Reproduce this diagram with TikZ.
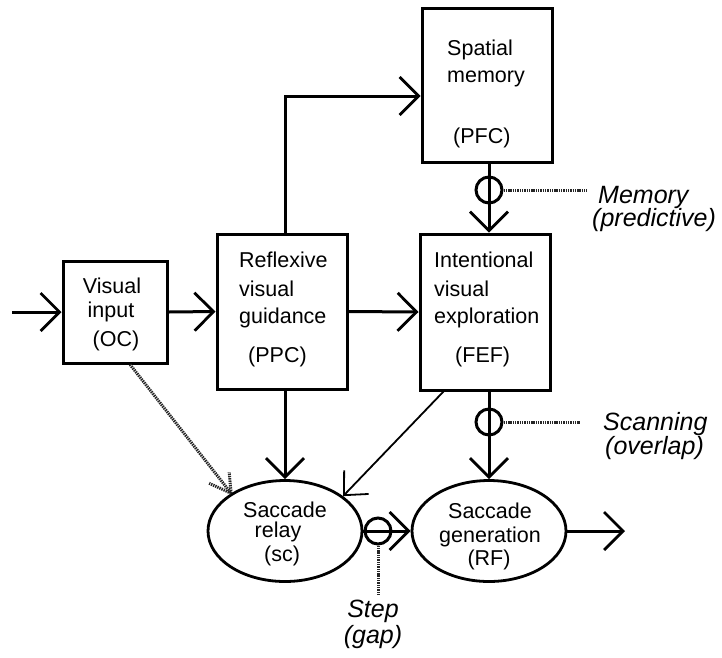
\documentclass[tikz,border=0pt]{standalone}
\usepackage{fontspec}
\setmainfont{Liberation Sans}
\usetikzlibrary{arrows.meta,shapes.geometric}
\begin{document}
\begin{tikzpicture}[x=1pt,y=-1pt,
  box/.style={draw,line width=3pt,inner sep=0pt},
  ell/.style={draw,ellipse,line width=2.8pt,minimum width=154pt,minimum height=101pt,inner sep=0pt},
  ring/.style={draw,circle,line width=3pt,minimum size=26pt,inner sep=0pt},
  conn/.style={line width=3pt,-{Straight Barb[length=19pt,width=38pt,line width=2.8pt]}},
  thinconn/.style={line width=1.8pt,-{Straight Barb[length=18pt,width=34pt,line width=1.8pt]}},
  txt/.style={inner sep=0pt,font=\fontsize{21.5}{26}\selectfont},
  lab/.style={inner sep=0pt,font=\fontsize{25}{28}\selectfont\itshape},
  dots/.style={line width=3pt,black!85,dash pattern=on 1.4pt off 0.9pt},
]
\useasboundingbox (0,0) rectangle (722,657);

% boxes
\node[box,minimum width=104pt,minimum height=102pt] (vis) at (115,312) {};
\node[box,minimum width=130pt,minimum height=155pt] (refl) at (282,311.5) {};
\node[box,minimum width=130pt,minimum height=154pt] (spat) at (487,85) {};
\node[box,minimum width=130pt,minimum height=156pt] (intent) at (485,312) {};
\node[ell] (relay) at (285,531) {};
\node[ell] (gen) at (489,531) {};

% texts
\node[txt,anchor=base] (t1) at (112,293) {Visual};
\node[txt,anchor=base] (t2) at (111,317) {input};
\node[txt,anchor=base] (t3) at (116,346) {(OC)};

\node[txt,anchor=base west] (t4) at (239,267) {Reflexive};
\node[txt,anchor=base west] (t5) at (239,296) {visual};
\node[txt,anchor=base west] (t6) at (239,323) {guidance};
\node[txt,anchor=base west] (t7) at (248,362) {(PPC)};

\node[txt,anchor=base west] (t8) at (434,267) {Intentional};
\node[txt,anchor=base west] (t9) at (434,296) {visual};
\node[txt,anchor=base west] (t10) at (434,323) {exploration};
\node[txt,anchor=base west] (t11) at (455,362) {(FEF)};

\node[txt,anchor=base west] (t12) at (447,55) {Spatial};
\node[txt,anchor=base west] (t13) at (447,82) {memory};
\node[txt,anchor=base west] (t14) at (453,143) {(PFC)};

\node[txt,anchor=base] (t15) at (285,517) {Saccade};
\node[txt,anchor=base] (t16) at (278,537) {relay};
\node[txt,anchor=base] (t17) at (282,561) {(sc)};

\node[txt,anchor=base] (t18) at (490,518) {Saccade};
\node[txt,anchor=base] (t19) at (490,542) {generation};
\node[txt,anchor=base] (t20) at (489,565) {(RF)};

% labels
\node[lab,anchor=base west] (l1) at (598,203) {Memory};
\node[lab,anchor=base west] (l2) at (592,226) {(predictive)};
\node[lab,anchor=base west] (l3) at (603,430) {Scanning};
\node[lab,anchor=base west] (l4) at (605,454) {(overlap)};
\node[lab,anchor=base] (l5) at (373,617) {Step};
\node[lab,anchor=base] (l6) at (373,643) {(gap)};

% connectors
\coordinate (inp) at (12,312);
\coordinate (out) at (625,531);
\draw[conn] (inp) -- (vis.west);
\draw[conn] (vis.east) -- (refl.west);
\draw[conn] ([xshift=3pt]refl.north) |- ([yshift=-11pt]spat.west);
\draw[conn] (refl.east) -- (intent.west);
\draw[conn] (spat.south -| gen.north) -- (intent.north -| gen.north);
\draw[conn] (intent.south -| gen.north) -- (gen.north);
\draw[conn] (refl.south -| relay.north) -- (relay.north);
\draw[thinconn] ([xshift=25pt]intent.south west) -- (relay.31);
\draw[conn] (relay.east) -- (gen.west);
\draw[conn] (gen.east) -- (out);

% rings
\node[ring] (memring) at (489,190) {};
\node[ring] (scanring) at (489,422) {};
\node[ring] (stepring) at (378,531) {};

% dotted lines
\draw[dots] (memring.east) -- ++(83,0);
\draw[dots] (scanring.east) -- ++(76,0);
\draw[dots] (stepring.south) -- ++(0,49);
\draw[dots] ([xshift=15pt]vis.south) -- (relay.145);
\draw[dots] (relay.145) -- ++(-22,-10);
\draw[dots] (relay.145) -- ++(-2,-21);
\end{tikzpicture}
\end{document}
